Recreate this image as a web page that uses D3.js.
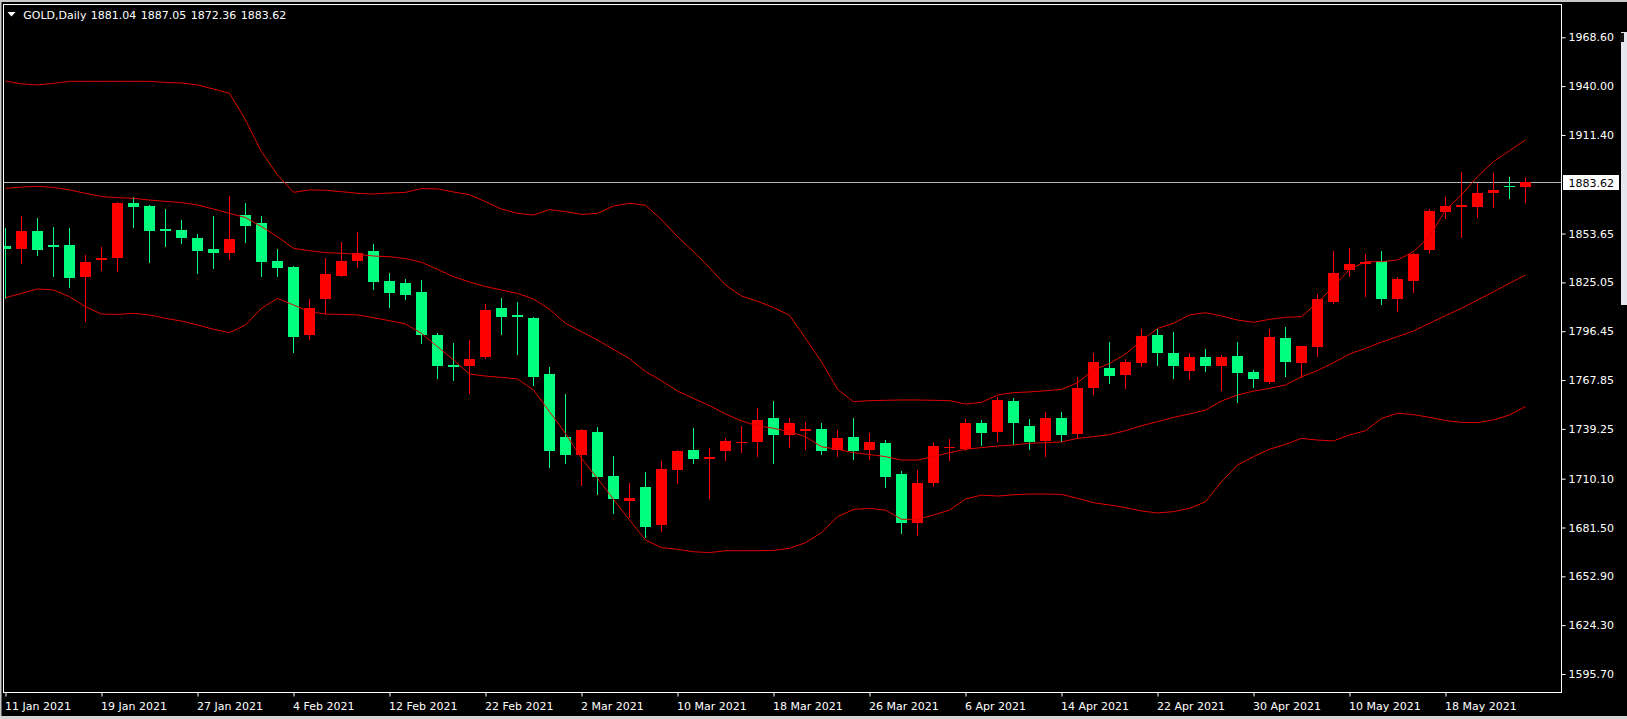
<!DOCTYPE html>
<html><head><meta charset="utf-8">
<script src="https://cdn.jsdelivr.net/npm/d3@7"></script>
<style>
html,body{margin:0;padding:0;background:#000;overflow:hidden;}
svg{display:block;}
</style></head>
<body>
<svg id="chart" width="1627" height="719"></svg>
<script>
const symbolLabel = "GOLD,Daily";
const dates = [
"2021-01-11","2021-01-12","2021-01-13","2021-01-14","2021-01-15","2021-01-18","2021-01-19","2021-01-20","2021-01-21","2021-01-22","2021-01-25","2021-01-26","2021-01-27","2021-01-28","2021-01-29",
"2021-02-01","2021-02-02","2021-02-03","2021-02-04","2021-02-05","2021-02-08","2021-02-09","2021-02-10","2021-02-11","2021-02-12","2021-02-15","2021-02-16","2021-02-17","2021-02-18","2021-02-19","2021-02-22","2021-02-23","2021-02-24","2021-02-25","2021-02-26",
"2021-03-01","2021-03-02","2021-03-03","2021-03-04","2021-03-05","2021-03-08","2021-03-09","2021-03-10","2021-03-11","2021-03-12","2021-03-15","2021-03-16","2021-03-17","2021-03-18","2021-03-19","2021-03-22","2021-03-23","2021-03-24","2021-03-25","2021-03-26","2021-03-29","2021-03-30","2021-03-31",
"2021-04-01","2021-04-05","2021-04-06","2021-04-07","2021-04-08","2021-04-09","2021-04-12","2021-04-13","2021-04-14","2021-04-15","2021-04-16","2021-04-19","2021-04-20","2021-04-21","2021-04-22","2021-04-23","2021-04-26","2021-04-27","2021-04-28","2021-04-29","2021-04-30",
"2021-05-03","2021-05-04","2021-05-05","2021-05-06","2021-05-07","2021-05-10","2021-05-11","2021-05-12","2021-05-13","2021-05-14","2021-05-17","2021-05-18","2021-05-19","2021-05-20","2021-05-21","2021-05-24","2021-05-25"];

const open = [
1846.4,1844.6,1855.2,1846.9,1846.9,1828.4,1838.2,1839.5,1871.7,1869.8,
1856.1,1855.5,1850.9,1844.6,1842.5,1864.5,1859.8,1837.8,1834.3,1794.2,
1815.1,1829.0,1837.8,1843.4,1825.9,1824.9,1819.2,1794.2,1776.7,1776.3,
1781.5,1809.8,1806.0,1804.4,1771.4,1734.3,1724.0,1737.2,1711.7,1697.0,
1705.4,1683.0,1715.4,1726.9,1721.6,1726.5,1730.8,1731.8,1745.4,1735.7,
1738.2,1739.2,1726.9,1734.7,1726.9,1731.2,1712.8,1684.3,1707.3,1727.9,
1727.3,1742.9,1737.6,1755.8,1741.0,1732.3,1745.4,1736.2,1763.4,1775.1,
1770.8,1777.6,1794.2,1783.9,1773.2,1781.5,1776.3,1781.9,1772.4,1766.5,
1792.7,1777.6,1787.0,1813.8,1832.3,1835.6,1837.6,1815.3,1826.1,1844.0,
1866.5,1869.0,1869.4,1877.2,1881.5,1881.04];
const high = [
1856.7,1863.9,1862.8,1857.7,1856.7,1841.1,1845.6,1872.0,1874.9,1870.4,
1868.0,1861.6,1853.4,1863.9,1875.7,1871.4,1863.9,1844.4,1834.7,1815.1,
1839.1,1848.5,1854.8,1847.3,1830.4,1827.0,1826.5,1795.2,1789.4,1791.3,
1812.2,1815.7,1813.4,1805.0,1775.7,1759.5,1739.0,1740.2,1723.4,1707.3,
1713.8,1720.4,1727.0,1740.0,1728.2,1734.1,1740.9,1751.3,1755.8,1745.4,
1743.5,1742.5,1738.6,1745.4,1737.0,1732.7,1714.8,1715.2,1730.8,1733.3,
1744.8,1744.4,1758.1,1757.1,1744.8,1749.3,1749.3,1769.8,1783.5,1790.3,
1780.2,1797.8,1797.6,1795.8,1783.5,1785.8,1782.5,1789.9,1773.7,1797.6,
1798.7,1788.0,1818.3,1843.4,1845.0,1841.7,1843.4,1828.4,1842.0,1868.0,
1874.9,1889.9,1883.5,1888.9,1886.6,1887.05];
const low = [
1815.7,1836.6,1841.1,1828.8,1822.5,1802.6,1832.3,1831.9,1857.7,1837.2,
1846.6,1847.9,1830.7,1833.7,1838.7,1848.9,1828.8,1828.8,1784.5,1791.7,
1807.3,1828.8,1833.9,1821.0,1810.4,1815.5,1789.4,1769.2,1767.9,1760.5,
1780.6,1794.8,1783.1,1765.0,1716.7,1719.5,1706.4,1701.1,1690.2,1687.4,
1676.1,1679.4,1707.7,1719.1,1699.0,1721.0,1725.9,1723.4,1719.1,1728.5,
1727.3,1724.4,1723.6,1721.4,1721.4,1705.4,1678.5,1677.1,1705.8,1721.0,
1726.9,1729.8,1732.3,1730.4,1727.3,1723.6,1732.3,1734.1,1759.5,1766.3,
1763.4,1776.1,1776.7,1769.2,1768.5,1773.2,1762.0,1755.2,1763.6,1766.3,
1770.2,1769.4,1781.9,1812.8,1828.8,1817.3,1812.4,1808.5,1819.2,1842.7,
1863.0,1851.8,1863.2,1869.4,1874.7,1872.36];
const close = [
1844.4,1855.2,1844.2,1846.0,1827.8,1836.8,1839.1,1871.4,1869.4,1855.3,
1855.2,1851.3,1843.6,1842.5,1850.5,1858.3,1837.2,1833.7,1792.9,1809.8,
1830.0,1837.6,1842.5,1825.1,1819.0,1817.7,1794.2,1776.3,1775.3,1780.2,
1808.9,1804.6,1805.0,1769.8,1726.5,1724.0,1738.6,1711.3,1698.4,1698.6,
1682.0,1715.8,1726.3,1721.8,1723.0,1732.2,1731.8,1744.5,1735.7,1742.9,
1739.0,1726.5,1734.1,1726.5,1731.6,1711.3,1684.3,1707.7,1729.2,1728.8,
1742.9,1737.0,1756.2,1742.9,1731.8,1745.4,1735.7,1763.4,1778.2,1770.4,
1778.2,1793.7,1783.9,1776.3,1781.5,1776.3,1781.5,1772.2,1768.3,1793.3,
1778.6,1787.8,1815.3,1830.7,1835.8,1837.2,1815.3,1827.0,1841.7,1866.9,
1869.8,1870.4,1877.2,1879.2,1880.9,1883.62];

const bbUpper = [
1943.0,1941.3,1940.7,1941.6,1942.8,1942.8,1942.8,1942.8,1942.8,1942.8,
1942.2,1941.8,1940.7,1938.3,1935.8,1920.2,1901.6,1888.0,1877.8,1879.2,
1879.0,1878.2,1877.2,1876.8,1877.4,1877.8,1880.0,1879.8,1878.0,1876.4,
1872.3,1868.0,1865.5,1864.5,1867.7,1866.5,1864.9,1865.5,1869.8,1871.4,
1870.2,1861.8,1851.8,1843.1,1833.7,1823.5,1817.1,1814.0,1810.3,1805.8,
1792.3,1778.6,1762.4,1755.2,1755.8,1756.0,1756.2,1756.2,1756.0,1755.8,
1753.8,1754.8,1759.1,1760.5,1760.9,1761.6,1762.4,1766.3,1773.7,1777.6,
1783.1,1790.9,1798.1,1801.1,1806.0,1807.3,1805.4,1803.0,1801.7,1803.4,
1804.6,1805.0,1813.2,1822.6,1832.7,1837.2,1837.2,1838.2,1843.1,1851.8,
1867.5,1876.2,1887.0,1895.8,1902.2,1908.5];
const bbMiddle = [
1880.1,1880.9,1881.3,1880.7,1879.2,1877.2,1875.3,1874.7,1874.3,1873.3,
1872.5,1871.8,1870.4,1868.0,1865.5,1863.0,1857.7,1851.8,1845.0,1843.6,
1842.5,1842.1,1841.5,1840.5,1840.1,1839.0,1836.8,1832.7,1828.4,1825.3,
1822.6,1820.6,1818.6,1815.3,1809.3,1801.1,1796.2,1791.3,1785.8,1780.4,
1772.8,1767.5,1761.4,1757.1,1752.9,1748.0,1743.9,1741.1,1739.6,1737.6,
1734.7,1728.8,1727.3,1725.3,1724.3,1723.0,1721.0,1721.0,1723.0,1725.3,
1727.3,1728.3,1729.2,1729.8,1730.8,1731.2,1731.6,1733.7,1734.7,1735.9,
1738.2,1741.1,1743.5,1746.0,1748.0,1750.3,1755.6,1759.1,1761.4,1763.0,
1765.0,1769.8,1773.4,1778.0,1783.1,1786.4,1790.1,1793.3,1796.6,1801.1,
1805.6,1809.9,1814.7,1819.6,1824.5,1829.4];
const bbLower = [
1816.1,1818.6,1821.2,1820.6,1816.7,1810.8,1806.5,1806.3,1806.9,1806.0,
1804.0,1802.4,1800.1,1797.6,1795.6,1800.1,1809.9,1815.7,1811.8,1807.9,
1806.5,1806.3,1806.0,1804.4,1802.6,1800.7,1795.2,1787.4,1779.6,1771.4,
1770.2,1769.4,1768.5,1762.0,1749.3,1736.6,1722.0,1710.3,1698.0,1685.9,
1674.2,1669.7,1668.7,1667.3,1666.8,1667.9,1667.9,1667.9,1668.1,1669.3,
1672.6,1678.5,1687.8,1692.1,1692.7,1691.7,1686.3,1686.3,1688.8,1691.7,
1698.2,1700.5,1699.9,1700.7,1701.1,1701.1,1700.9,1698.6,1696.0,1694.7,
1693.1,1691.2,1690.0,1690.8,1692.7,1696.6,1708.3,1718.1,1723.0,1727.3,
1730.2,1733.7,1732.7,1732.2,1735.7,1738.2,1745.4,1748.4,1747.6,1746.0,
1744.1,1743.1,1742.9,1744.5,1747.4,1752.3];

const priceTicks = [1968.60,1940.00,1911.40,1853.65,1825.05,1796.45,1767.85,1739.25,1710.10,1681.50,1652.90,1624.30,1595.70];
const dateTicks = ["2021-01-11","2021-01-19","2021-01-27","2021-02-04","2021-02-12","2021-02-22","2021-03-02","2021-03-10","2021-03-18","2021-03-26","2021-04-06","2021-04-14","2021-04-22","2021-04-30","2021-05-10","2021-05-18"];

// ---------- drawing ----------
const W = 1627, H = 719;
const plot = {left: 3.5, right: 1561.5, top: 4.5, bottom: 692.5};
const FONT = "'DejaVu Sans', Verdana, sans-serif";
const UP = "#ff0000", DOWN = "#00ff7f", BAND = "#e00000";

const svg = d3.select("#chart");
svg.append("rect").attr("width", W).attr("height", H).attr("fill", "#000");
// window frame remnants
svg.append("rect").attr("x", 0).attr("y", 0).attr("width", W).attr("height", 2).attr("fill", "#c8c8c8");
svg.append("rect").attr("x", 0).attr("y", 0).attr("width", 1.5).attr("height", H).attr("fill", "#c8c8c8");
svg.append("rect").attr("x", 0).attr("y", 716).attr("width", W).attr("height", 3).attr("fill", "#d4d4d4");
svg.append("rect").attr("x", 1621).attr("y", 32).attr("width", 6).attr("height", 273).attr("fill", "#e4e8ee");
svg.append("rect").attr("x", 1620).attr("y", 33).attr("width", 4).attr("height", 9).attr("fill", "#111");

const x = d3.scalePoint().domain(dates).range([5.5, 1525.5]);
const y = d3.scaleLinear().domain([1595.70, 1968.60]).range([674.0, 37.3]);

const bars = dates.map((d, i) => ({d, o: open[i], h: high[i], l: low[i], c: close[i]}));

svg.append("defs").append("clipPath").attr("id", "clip")
  .append("rect").attr("x", 4).attr("y", 5).attr("width", plot.right - 4).attr("height", plot.bottom - 5);

const g = svg.append("g").attr("clip-path", "url(#clip)");

// current price line
const lastClose = close[close.length - 1];
const py = Math.round(y(lastClose)) + 0.5;
g.append("line").attr("x1", plot.left).attr("x2", plot.right).attr("y1", py).attr("y2", py)
  .attr("stroke", "#b8b8b8").attr("stroke-width", 1);

// candles
const cg = g.append("g").attr("shape-rendering", "crispEdges");
cg.selectAll("line.wick").data(bars).join("line").attr("class", "wick")
  .attr("x1", b => x(b.d)).attr("x2", b => x(b.d))
  .attr("y1", b => Math.round(y(b.h))).attr("y2", b => Math.round(y(b.l)) + 1)
  .attr("stroke", b => b.c >= b.o ? UP : DOWN).attr("stroke-width", 1);
cg.selectAll("rect.body").data(bars).join("rect").attr("class", "body")
  .attr("x", b => x(b.d) - 5.5).attr("width", 11)
  .attr("y", b => Math.round(y(Math.max(b.o, b.c))))
  .attr("height", b => Math.max(1, Math.round(y(Math.min(b.o, b.c))) - Math.round(y(Math.max(b.o, b.c)))))
  .attr("fill", b => b.c >= b.o ? UP : DOWN);

// bollinger bands
const line = d3.line().x((v, i) => x(dates[i])).y(v => y(v));
[bbUpper, bbMiddle, bbLower].forEach(arr => {
  g.append("path").attr("d", line(arr)).attr("fill", "none").attr("stroke", BAND).attr("stroke-width", 1);
});

// plot border
svg.append("rect").attr("x", plot.left).attr("y", plot.top)
  .attr("width", plot.right - plot.left).attr("height", plot.bottom - plot.top)
  .attr("fill", "none").attr("stroke", "#ffffff").attr("stroke-width", 1);

// price axis
const yAxis = d3.axisRight(y).tickValues(priceTicks).tickFormat(d3.format(".2f")).tickSize(4).tickPadding(3);
const gy = svg.append("g").attr("transform", `translate(${plot.right},0)`).call(yAxis)
  .attr("font-family", FONT).attr("font-size", 11);
gy.select(".domain").remove();
gy.selectAll(".tick line").attr("stroke", "#fff");
gy.selectAll(".tick text").attr("fill", "#fff");

// current price label
svg.append("rect").attr("x", 1563).attr("y", py - 7.5).attr("width", 56).attr("height", 15).attr("fill", "#ffffff");
svg.append("text").attr("x", 1568.5).attr("y", py + 4).attr("fill", "#000")
  .attr("font-family", FONT).attr("font-size", 11).text(d3.format(".2f")(lastClose));

// date axis
const parse = d3.timeParse("%Y-%m-%d"), fmt = d3.timeFormat("%-d %b %Y");
const xAxis = d3.axisBottom(x).tickValues(dateTicks).tickFormat(d => fmt(parse(d))).tickSize(4);
const gx = svg.append("g").attr("transform", `translate(0,${plot.bottom})`).call(xAxis)
  .attr("font-family", FONT).attr("font-size", 11);
gx.select(".domain").remove();
gx.selectAll(".tick line").attr("stroke", "#fff");
gx.selectAll(".tick text").attr("fill", "#fff").attr("text-anchor", "start")
  .attr("x", -1).attr("y", 17).attr("dy", 0);

// header
svg.append("path").attr("d", "M7.5,12 L15.5,12 L11.5,16.5 Z").attr("fill", "#fff");
svg.append("text").attr("x", 23.3).attr("y", 19).attr("fill", "#fff")
  .attr("font-family", FONT).attr("font-size", 11).text(symbolLabel);
const last = bars[bars.length - 1];
[last.o, last.h, last.l, last.c].forEach((v, k) => {
  svg.append("text").attr("x", 90.7 + 50 * k).attr("y", 19).attr("fill", "#fff")
    .attr("font-family", FONT).attr("font-size", 11).text(d3.format(".2f")(v));
});
</script>
</body></html>
